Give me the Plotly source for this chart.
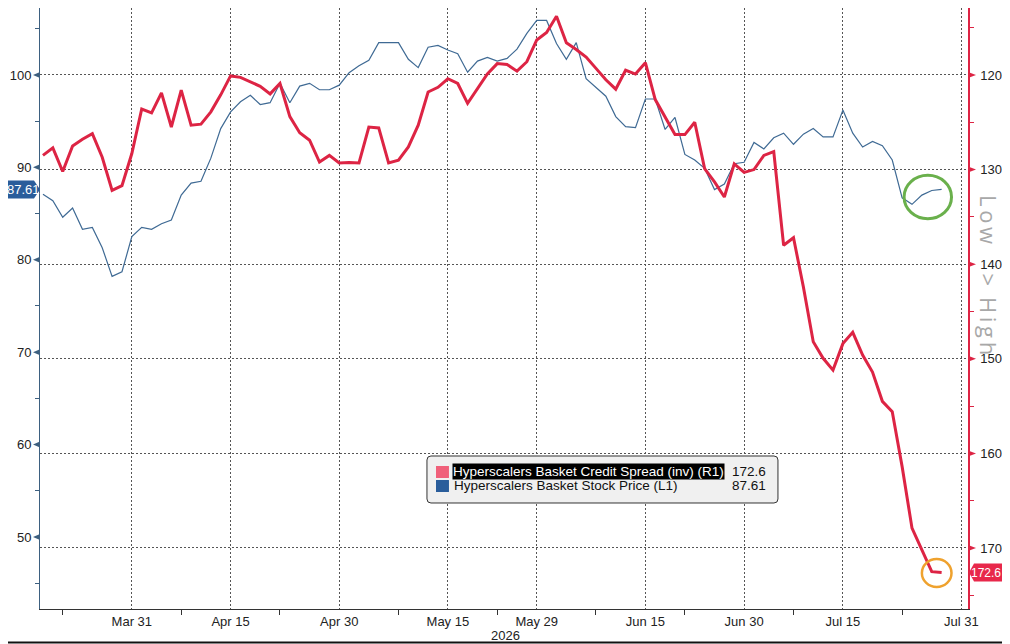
import pandas as pd
import plotly.graph_objects as go

# trading days Mar 18 - Jul 29 2026 (US market holidays removed)
holidays = ["2026-04-03", "2026-05-25", "2026-06-19", "2026-07-03"]
dates = pd.bdate_range("2026-03-18", "2026-07-29", freq="C", holidays=holidays)

# Hyperscalers basket credit spread (bp, plotted inverted on right axis)
spread = [
    128.5, 127.7, 130.2, 127.5, 126.8, 126.2, 128.7, 132.2, 131.7, 128.3,
    123.6, 124.0, 121.9, 125.5, 121.6, 125.3, 125.2, 123.9, 122.1, 120.1,
    120.25, 120.7, 121.2, 122.0, 120.9, 124.4, 126.1, 126.9, 129.2, 128.5,
    129.3, 129.25, 129.3, 125.5, 125.6, 129.3, 129.0, 127.6, 125.3, 121.8,
    121.3, 120.4, 120.9, 123.0, 121.4, 119.9, 118.8, 118.9, 119.6, 118.6,
    116.3, 115.5, 113.8, 116.6, 117.3, 118.1, 119.3, 120.5, 121.5, 119.5,
    119.9, 118.7, 122.6, 124.4, 126.3, 126.3, 125.0, 129.9, 131.3, 132.9,
    129.4, 130.3, 130.0, 128.5, 128.1, 138.0, 137.2, 142.4, 148.2, 149.95,
    151.2, 148.4, 147.2, 149.6, 151.4, 154.5, 155.6, 161.4, 167.9, 170.2,
    172.5, 172.6,
]

# Hyperscalers basket stock price (left axis)
stock = [
    87.1, 86.4, 84.6, 85.6, 83.3, 83.5, 81.3, 78.2, 78.7, 82.5,
    83.5, 83.3, 83.9, 84.3, 87.0, 88.3, 88.5, 91.0, 94.2, 96.0,
    97.1, 97.8, 96.8, 97.0, 99.1, 97.0, 98.8, 99.1, 98.4, 98.4,
    98.9, 100.25, 101.0, 101.6, 103.5, 103.5, 103.5, 101.7, 100.8, 103.0,
    103.2, 102.7, 102.3, 100.3, 101.5, 101.9, 101.5, 101.8, 102.8, 104.5,
    105.9, 105.9, 103.4, 101.7, 103.5, 99.6, 98.6, 97.7, 95.5, 94.4,
    94.3, 97.4, 97.4, 94.1, 95.4, 91.4, 90.8, 89.9, 87.6, 88.2,
    90.4, 90.55, 92.7, 92.0, 93.2, 93.7, 92.5, 93.6, 94.2, 93.3,
    93.3, 96.2, 93.7, 92.2, 92.8, 92.35, 90.8, 86.7, 86.0, 87.0,
    87.5, 87.61,
]

x_ticks = ["2026-03-31", "2026-04-15", "2026-04-30", "2026-05-15", "2026-05-29",
           "2026-06-15", "2026-06-30", "2026-07-15", "2026-07-31"]
x_labels = ["Mar 31", "Apr 15", "Apr 30", "May 15", "May 29",
            "Jun 15", "Jun 30", "Jul 15", "Jul 31"]
x_minor = ["2026-03-20", "2026-04-08", "2026-04-22", "2026-05-08", "2026-05-22",
           "2026-06-08", "2026-06-22", "2026-07-08", "2026-07-23"]
left_ticks = [50, 60, 70, 80, 90, 100]
right_ticks = [120, 130, 140, 150, 160, 170]

spread_name = "Hyperscalers Basket Credit Spread (inv) (R1)"
stock_name = "Hyperscalers Basket Stock Price (L1)"

RED = "#dd2444"
BLUE = "#3f6a94"
AXIS_BLUE = "#3d6080"
FONT = "Liberation Sans"

fig = go.Figure()
fig.add_trace(go.Scatter(x=dates, y=stock, mode="lines", name=stock_name,
                         line=dict(color=BLUE, width=1.2), yaxis="y"))
fig.add_trace(go.Scatter(x=dates, y=spread, mode="lines", name=spread_name,
                         line=dict(color=RED, width=3), yaxis="y2"))

shapes = []
# arrow markers on the y axes
for v in left_ticks:
    shapes.append(dict(type="path", xref="paper", yref="y", xsizemode="pixel", ysizemode="pixel",
                       xanchor=0, yanchor=v, path="M0,-3 L0,3 L-7,0 Z",
                       fillcolor=AXIS_BLUE, line=dict(width=0)))
for v in right_ticks:
    shapes.append(dict(type="path", xref="paper", yref="y2", xsizemode="pixel", ysizemode="pixel",
                       xanchor=1, yanchor=v, path="M0,-3 L0,3 L8,0 Z",
                       fillcolor=RED, line=dict(width=0)))

# last value tags
shapes.append(dict(type="path", xref="paper", yref="y", xsizemode="pixel", ysizemode="pixel",
                   xanchor=0, yanchor=stock[-1], path="M0,0 L-6,-9 L-33,-9 L-33,9 L-6,9 Z",
                   fillcolor="#2a5d9b", line=dict(width=0)))
shapes.append(dict(type="path", xref="paper", yref="y2", xsizemode="pixel", ysizemode="pixel",
                   xanchor=1, yanchor=spread[-1], path="M1,0 L6,-9 L45,-9 L45,9 L6,9 Z",
                   fillcolor="#e8284b", line=dict(width=0)))

# highlight circles
shapes.append(dict(type="circle", xref="x", yref="y",
                   x0="2026-07-23 04:48", x1="2026-07-30", y0=84.45, y1=89.15,
                   line=dict(color="#6ab04c", width=3)))
shapes.append(dict(type="circle", xref="x", yref="y2",
                   x0="2026-07-27", x1="2026-07-30", y0=171.16, y1=174.12,
                   line=dict(color="#efa22e", width=2.5)))

# legend box (rounded)
shapes.append(dict(type="path", xref="paper", yref="paper", xsizemode="pixel", ysizemode="pixel",
                   xanchor=0.6061, yanchor=0.2155,
                   path=("M-171.5,23.5 L171.5,23.5 Q175.5,23.5 175.5,19.5 L175.5,-19.5 "
                         "Q175.5,-23.5 171.5,-23.5 L-171.5,-23.5 Q-175.5,-23.5 -175.5,-19.5 "
                         "L-175.5,19.5 Q-175.5,23.5 -171.5,23.5 Z"),
                   fillcolor="#f0f0f0", line=dict(color="#333333", width=1)))
shapes.append(dict(type="rect", xref="paper", yref="paper", x0=0.4267, x1=0.4407,
                   y0=0.218, y1=0.2379, fillcolor="#f0607a", line=dict(width=0)))
shapes.append(dict(type="rect", xref="paper", yref="paper", x0=0.4267, x1=0.4407,
                   y0=0.1947, y1=0.2146, fillcolor="#2a5d9b", line=dict(width=0)))

# bottom frame line
shapes.append(dict(type="line", xref="paper", yref="paper", x0=-0.0345, x1=1.0453,
                   y0=-0.0557, y1=-0.0557, line=dict(color="#111111", width=2)))

annotations = [
    dict(text="87.61", xref="paper", yref="y", x=-0.0182, y=stock[-1], showarrow=False,
         xanchor="center", yanchor="middle",
         font=dict(family=FONT, size=13, color="white")),
    dict(text="172.6", xref="paper", yref="y2", x=1.0195, y=spread[-1], showarrow=False,
         xanchor="center", yanchor="middle",
         font=dict(family=FONT, size=12, color="white")),
    dict(text=spread_name, xref="paper", yref="paper", x=0.444, y=0.2288,
         xanchor="left", yanchor="middle",
         showarrow=False, bgcolor="black", borderpad=0,
         font=dict(family=FONT, size=13.5, color="white")),
    dict(text=stock_name, xref="paper", yref="paper", x=0.444, y=0.2047,
         xanchor="left", yanchor="middle",
         showarrow=False, font=dict(family=FONT, size=13.5, color="#111111")),
    dict(text="172.6", xref="paper", yref="paper", x=0.7845, y=0.2288,
         xanchor="right", yanchor="middle",
         showarrow=False, font=dict(family=FONT, size=13.5, color="#111111")),
    dict(text="87.61", xref="paper", yref="paper", x=0.7845, y=0.2047,
         xanchor="right", yanchor="middle",
         showarrow=False, font=dict(family=FONT, size=13.5, color="#111111")),
    dict(text="2026", xref="paper", yref="paper", x=0.502, y=-0.0433, showarrow=False,
         xanchor="center", yanchor="middle",
         font=dict(family=FONT, size=13, color="#222222")),
    dict(text="L\u2009o\u2009w\u2003\u2009\u2009>\u2009\u2009\u2009H\u2009i\u2009g\u2009h",
         xref="paper", yref="paper", x=1.0226, y=0.5557,
         xanchor="center", yanchor="middle",
         textangle=90, showarrow=False,
         font=dict(family="Open Sans", size=22, color="#a8a8a8")),
]

fig.update_layout(
    width=1002, height=636,
    margin=dict(l=32, r=42, t=0, b=35),
    plot_bgcolor="white", paper_bgcolor="white",
    showlegend=False,
    font=dict(family=FONT, size=13, color="#222222"),
    shapes=shapes,
    annotations=annotations,
    xaxis=dict(
        type="date",
        range=["2026-03-17 16:48", "2026-07-31 16:05"],
        rangebreaks=[dict(bounds=["sat", "mon"]), dict(values=holidays)],
        tickmode="array", tickvals=x_ticks, ticktext=x_labels, ticks="",
        showgrid=True, gridcolor="#555555", griddash="2px,2px", gridwidth=1,
        showline=True, linecolor="#333333", linewidth=1,
        minor=dict(tickmode="array", tickvals=x_minor, ticks="outside", ticklen=5,
                   tickcolor="#333333", showgrid=False),
        tickfont=dict(family=FONT, size=13, color="#222222"),
        zeroline=False,
    ),
    yaxis=dict(
        range=[42.2, 107.25],
        tickmode="array", tickvals=left_ticks, ticks="outside", ticklen=5,
        tickcolor="rgba(0,0,0,0)",
        minor=dict(tickmode="array", tickvals=[45, 55, 65, 75, 85, 95, 105], ticks="outside",
                   ticklen=4, tickcolor=AXIS_BLUE, showgrid=False),
        showgrid=False, zeroline=False,
        showline=True, linecolor=AXIS_BLUE, linewidth=1,
        tickfont=dict(family=FONT, size=13, color="#222222"),
    ),
    yaxis2=dict(
        overlaying="y", side="right",
        range=[176.45, 112.92],
        tickmode="array", tickvals=right_ticks, ticks="outside", ticklen=8,
        tickcolor="rgba(0,0,0,0)",
        minor=dict(tickmode="array", tickvals=[115, 125, 135, 145, 155, 165, 175], ticks="outside",
                   ticklen=4, tickcolor=RED, showgrid=False),
        showgrid=True, gridcolor="#555555", griddash="2px,2px", gridwidth=1,
        zeroline=False,
        showline=True, linecolor=RED, linewidth=1.5,
        tickfont=dict(family=FONT, size=13, color="#222222"),
    ),
)

fig.write_html("out.html")
